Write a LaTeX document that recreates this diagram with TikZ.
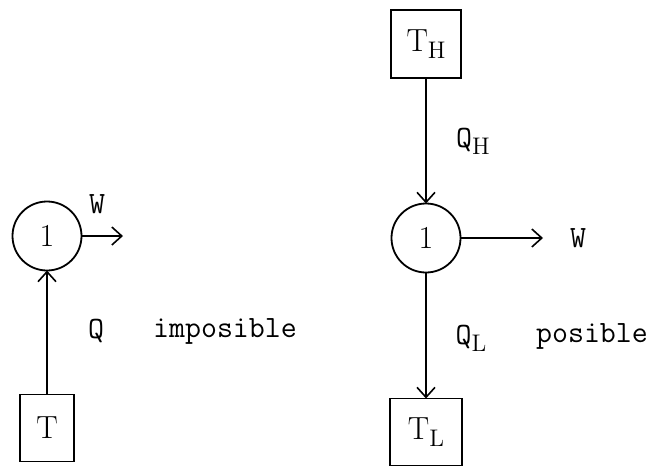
\documentclass[tikz,border=0pt]{standalone}
\usetikzlibrary{arrows.meta}
\newcommand{\sbs}[1]{\raisebox{-3.5pt}{\fontsize{12}{12}\selectfont\rmfamily #1}}
\begin{document}
\begin{tikzpicture}[x=0.5pt,y=-0.5pt,
  every node/.style={inner sep=0pt, outer sep=0pt},
  circ/.style={draw, circle, minimum size=34.5pt, line width=0.9pt, font=\rmfamily\fontsize{16}{18}\selectfont},
  tbox/.style={draw, rectangle, line width=0.9pt, font=\rmfamily\fontsize{16}{18}\selectfont},
  lbl/.style={font=\ttfamily\fontsize{15.5}{18}\selectfont},
  arr/.style={line width=0.8pt, -{Straight Barb[length=5pt,width=9pt,line width=0.8pt]}},
  ln/.style={line width=0.8pt}]
\useasboundingbox (0,0) rectangle (652,467);
% left
\node[circ] (c1) at (47,236) {1};
\node[tbox, minimum width=27pt, minimum height=33.5pt] (t1) at (47,428) {T};
\coordinate (w1end) at (123,236);
\draw[arr] (c1.east) -- (w1end);
\node[lbl] (w1) at (97,204) {W};
\draw[arr] (t1.north) -- (c1.south);
\node[lbl] (q1) at (96,331) {Q};
\node[lbl] (imp) at (225,331) {imposible};
% right
\node[tbox, minimum width=35pt, minimum height=34pt] (th) at (426,44) {T\sbs{H}};
\node[circ] (c2) at (426,238) {1};
\node[tbox, minimum width=36pt, minimum height=33.5pt] (tl) at (426,432) {T\sbs{L}};
\draw[arr] (th.south) -- (c2.north);
\draw[arr] (c2.south) -- (tl.north);
\coordinate (w2end) at (543,238);
\draw[arr] (c2.east) -- (w2end);
\node[lbl] (w2) at (578,238) {W};
\node[lbl] (qh) at (473,141) {Q\sbs{H}};
\node[lbl] (ql) at (471,338) {Q\sbs{L}};
\node[lbl] (pos) at (592,336) {posible};
\end{tikzpicture}
\end{document}
